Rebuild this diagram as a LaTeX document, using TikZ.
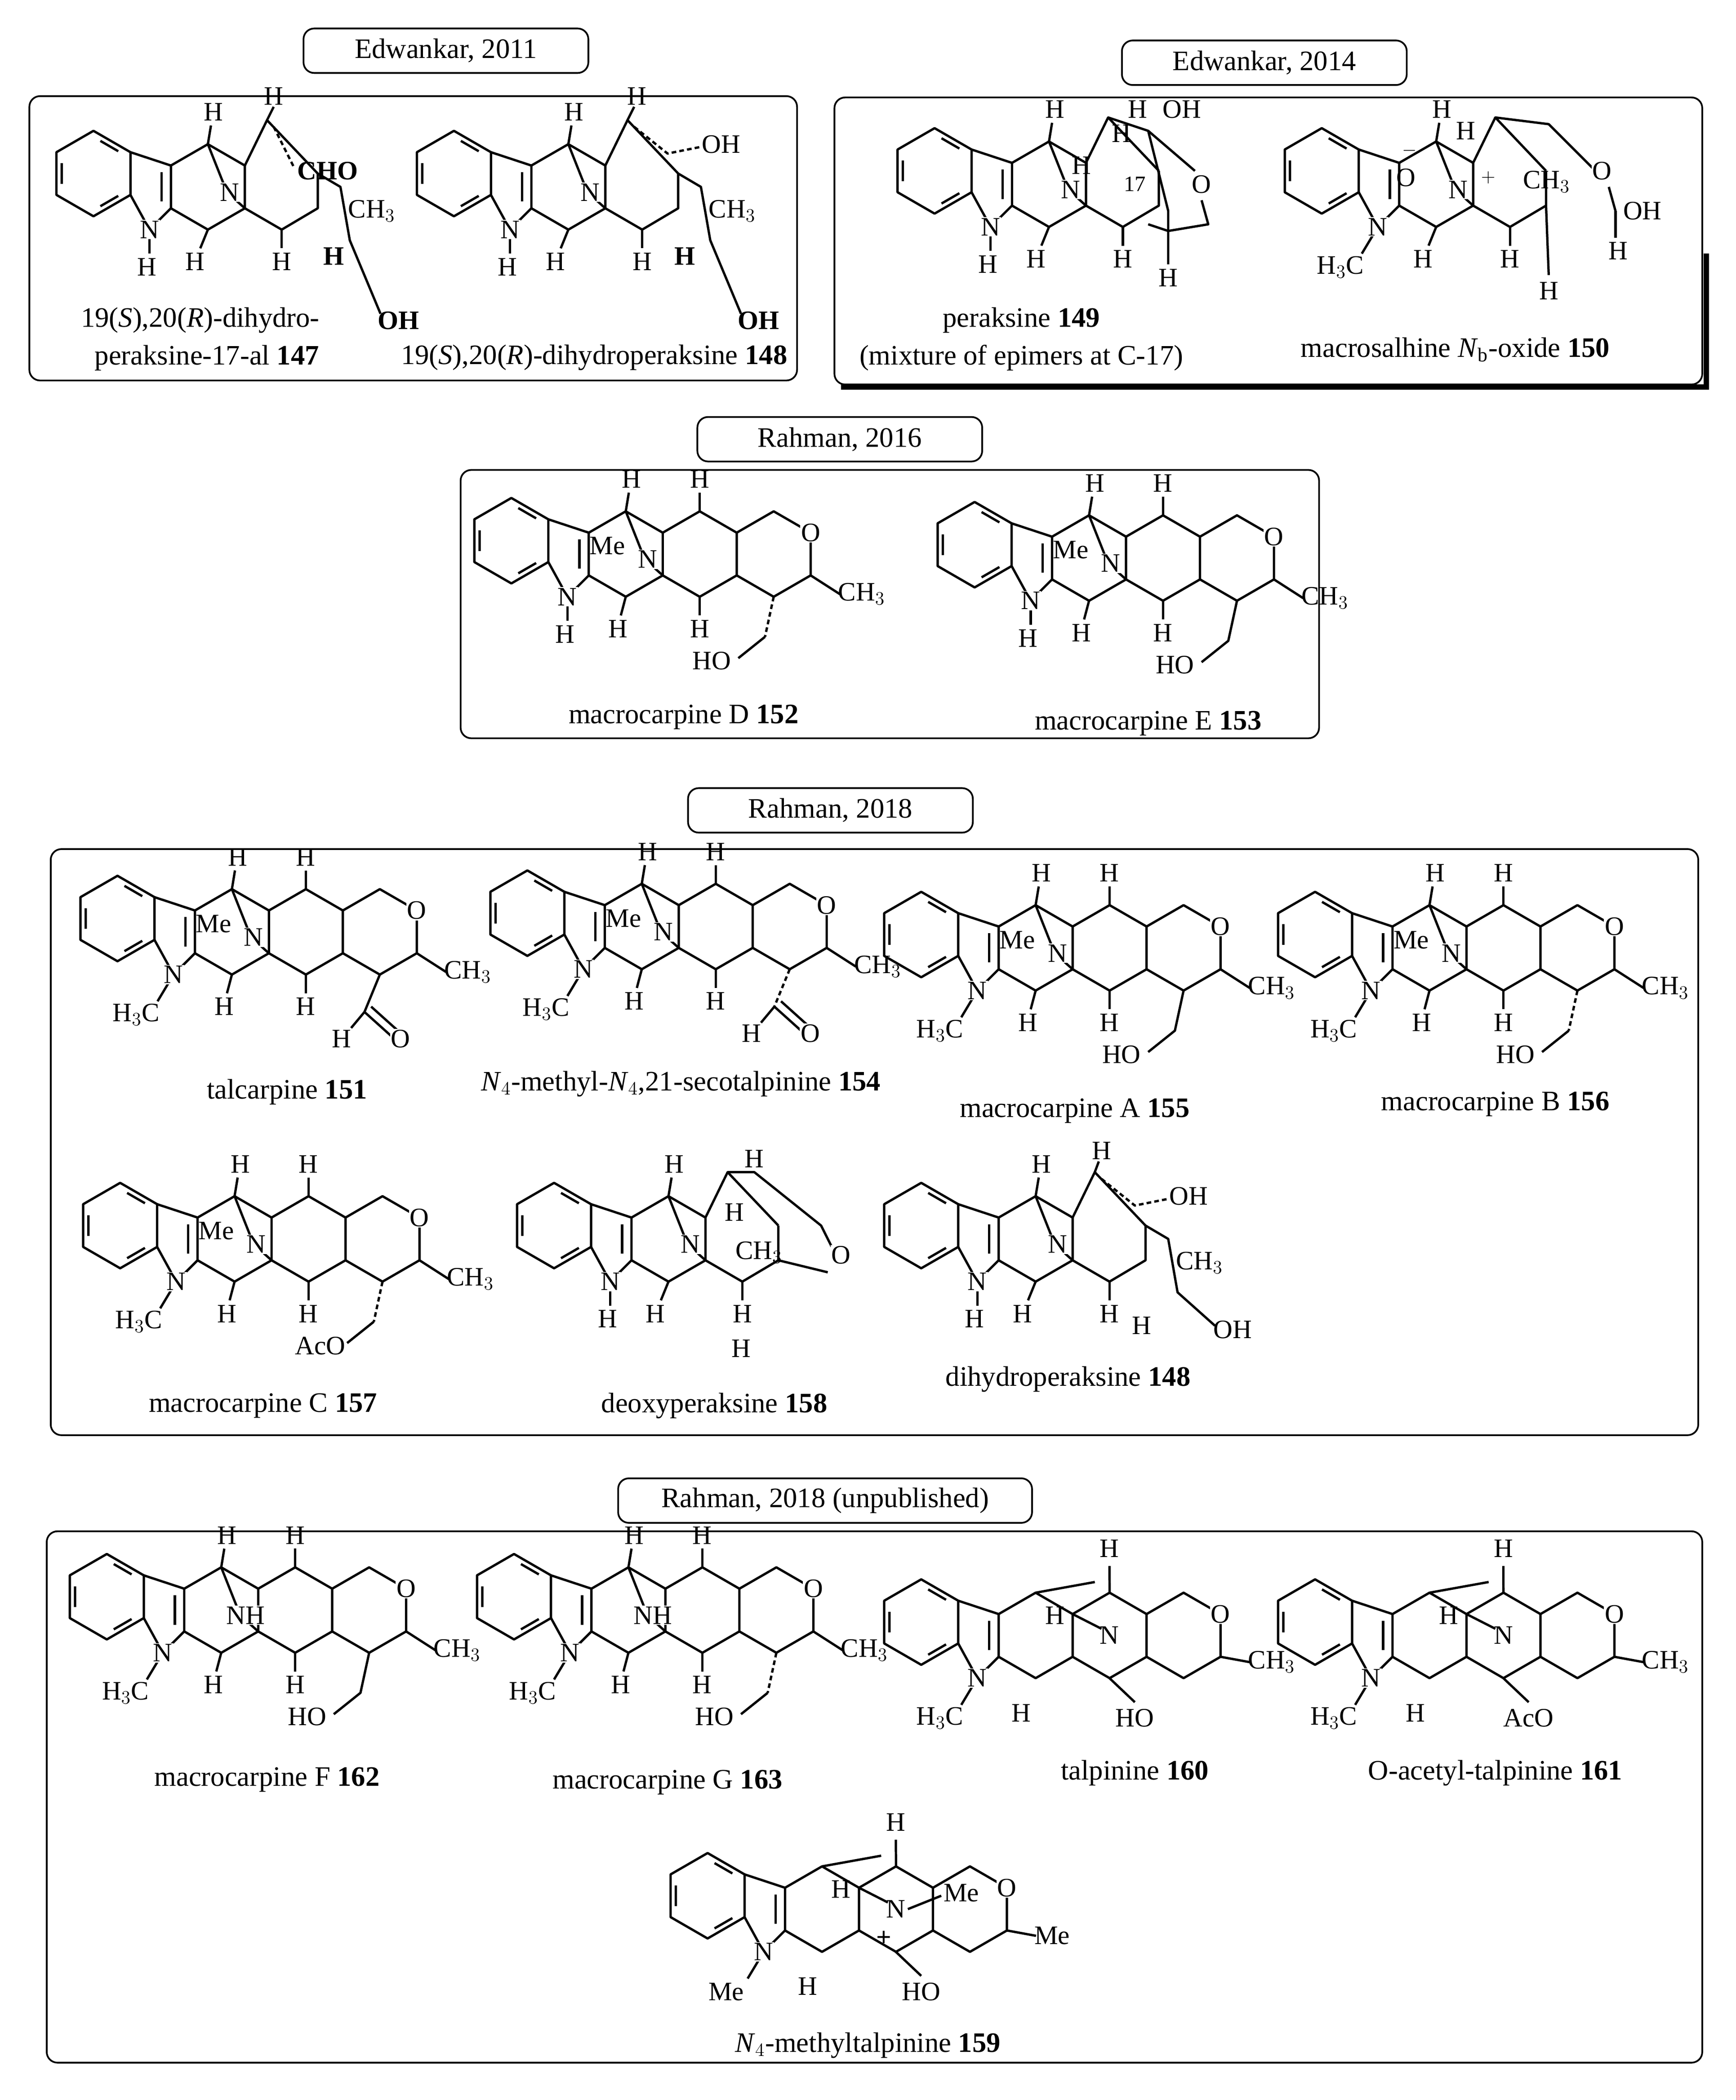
\documentclass[tikz,border=0pt]{standalone}
\usepackage{fontspec}
\setmainfont{Liberation Serif}
\tikzset{
 bond/.style={line width=1.5pt,line join=round},
 atom/.style={fill=white,inner sep=0.6pt,font=\fontsize{17}{19}\selectfont},
 lab/.style={inner sep=0.5pt,font=\fontsize{17}{19}\selectfont},
 nm/.style={inner sep=1pt,font=\fontsize{18}{21}\selectfont},
 frame/.style={draw,line width=1.1pt,rounded corners=2.4mm},
 ttl/.style={draw,line width=1.1pt,rounded corners=2.4mm,minimum width=64mm,minimum height=10mm,font=\fontsize{18}{21}\selectfont}
}
\newcommand\indolecore[1]{%
 \draw[bond] (30:32)--(90:32)--(150:32)--(210:32)--(270:32)--(330:32)--cycle;
 \draw[bond] (42:25)--(78:25) (162:25)--(198:25) (282:25)--(318:25);
 \draw[bond] (30:32)--(58,6)--(58,-26)--(42,-42)--(330:32);
 \draw[bond] (51,1)--(51,-21);
 \draw[bond] (58,6)--(85.7,22)--(113.4,6)--(113.4,-26)--(85.7,-42)--(58,-26);
 \ifx#1H
  \draw[bond] (42,-42)--(42,-60); \node[lab] at (40,-70){H};
 \else
  \draw[bond] (42,-42)--(30,-62); \node[lab] at (14,-72){#1};
 \fi
 \node[atom] at (42,-42){N};}
\newcommand\ringfour{\draw[bond] (113.4,6)--(141.1,22)--(168.8,6)--(168.8,-26)--(141.1,-42)--(113.4,-26);}
\newcommand\ringfive{\draw[bond] (168.8,6)--(196.5,22)--(224.2,6)--(224.2,-26)--(196.5,-42)--(168.8,-26);
 \node[atom] at (224.2,6){O};}
\newcommand\talskel[2]{%
 \indolecore{#1}\ringfour\ringfive
 \draw[bond] (85.7,22)--(100,-14) (100,-14)--(113.4,-26);
 \ifnum#2=1
  \node[atom] at (102,-14){N}; \node[lab] at (72,-4){Me};
 \else
  \node[atom] at (104,-14){NH};
 \fi
 \draw[bond] (85.7,22)--(88,36); \node[lab] at (90,46){H};
 \draw[bond] (141.1,22)--(141.1,36); \node[lab] at (141,46){H};
 \draw[bond] (85.7,-42)--(82,-56); \node[lab] at (80,-66){H};
 \draw[bond] (141.1,-42)--(141.1,-56); \node[lab] at (141,-66){H};
 \draw[bond] (224.2,-26)--(246,-40); \node[lab,anchor=west] at (244,-40){CH$_3$};}
\newcommand\perskel[1]{%
 \indolecore{#1}
 \draw[bond] (113.4,-26)--(141,-42)--(168,-26)--(168,0);
 \draw[bond] (85.7,22)--(100,-14)--(113.4,-26);
 \draw[bond] (113.4,6)--(130,40)--(168,0);
 \node[atom] at (102,-14){N};
 \draw[bond] (85.7,22)--(88,36); \node[lab] at (90,46){H};
 \draw[bond] (85.7,-42)--(80,-56); \node[lab] at (76,-66){H};
 \draw[bond] (141,-42)--(141,-56); \node[lab] at (141,-66){H};}
\begin{document}
\begin{tikzpicture}[x=0.3mm,y=-0.3mm]
\useasboundingbox (0,0) rectangle (1300,1573);
\node[ttl] (t1) at (334,38){Edwankar, 2011};
\draw[frame] (22,72) rectangle (597,285);
\node[ttl] (t2) at (947,47){Edwankar, 2014};
\draw[frame] (625,73) rectangle (1275,288);
\draw[line width=3.5pt] (630,290)--(1278,290)--(1278,190);
\node[ttl] (t3) at (629,329){Rahman, 2016};
\draw[frame] (345,352) rectangle (988,553);
\node[ttl] (t4) at (622,607){Rahman, 2018};
\draw[frame] (38,636) rectangle (1272,1075);
\node[ttl,minimum width=93mm] (t5) at (618,1124){Rahman, 2018 (unpublished)};
\draw[frame] (35,1147) rectangle (1275,1545);

% 147
\begin{scope}[shift={(70,130)},yscale=-1]
 \perskel{H}
 \draw[bond] (130,40)--(135,50); \node[lab] at (135,58){H};
 \draw[bond,densely dashed] (135,35)--(150,5); \node[lab,anchor=west] at (152,2){\textbf{CHO}};
 \draw[bond] (168,0)--(185,-10)--(192,-50)--(215,-105); \node[lab,anchor=west] at (190,-28){CH$_3$};
 \node[lab] at (180,-62){\textbf{H}}; \node[lab,anchor=west] at (212,-110){\textbf{OH}};
\end{scope}
\node[nm] at (150,240){19(\textit{S}),20(\textit{R})-dihydro-};
\node[nm] at (155,268){peraksine-17-al \textbf{147}};
% 148
\begin{scope}[shift={(340,130)},yscale=-1]
 \perskel{H}
 \draw[bond] (130,40)--(135,50); \node[lab] at (137,58){H};
 \draw[bond,densely dashed] (135,35)--(160,15)--(185,20); \node[lab,anchor=west] at (185,22){OH};
 \draw[bond] (168,0)--(185,-10)--(192,-50)--(215,-105); \node[lab,anchor=west] at (190,-28){CH$_3$};
 \node[lab] at (173,-62){\textbf{H}}; \node[lab,anchor=west] at (212,-110){\textbf{OH}};
\end{scope}
\node[nm] at (445,268){19(\textit{S}),20(\textit{R})-dihydroperaksine \textbf{148}};
% 149
\begin{scope}[shift={(700,128)},yscale=-1]
 \perskel{H}
 \draw[bond] (130,40)--(160,30)--(175,-30)--(175,-70);
 \node[lab] at (110,4){H}; \node[lab] at (140,28){H};
 \node[lab] at (152,46){H}; \node[lab,anchor=west] at (170,46){OH};
 \node[lab,font=\fontsize{14}{16}\selectfont] at (150,-10){17};
 \node[atom] at (200,-10){O}; \draw[bond] (160,30)--(195,0) (200,-22)--(205,-40)--(175,-45);
 \draw[bond] (160,-40)--(175,-45); \node[lab] at (175,-80){H};
\end{scope}
\node[nm] at (765,240){peraksine \textbf{149}};
\node[nm] at (765,268){(mixture of epimers at C-17)};
% 150
\begin{scope}[shift={(990,128)},yscale=-1]
 \perskel{H$_3$C}
 \node[lab] at (63,-5){O}; \node[lab] at (66,12){$^{-}$};
 \node[lab] at (125,-8){$^{+}$};
 \node[lab] at (108,30){H};
 \draw[bond] (130,40)--(170,35)--(205,0); \node[atom] at (210,0){O};
 \node[lab,anchor=west] at (150,-8){CH$_3$};
 \draw[bond] (215,-12)--(220,-30); \node[lab,anchor=west] at (225,-30){OH};
 \draw[bond] (220,-30)--(220,-50); \node[lab] at (222,-60){H};
 \draw[bond] (168,-26)--(170,-78); \node[lab] at (170,-90){H};
\end{scope}
\node[nm] at (1090,262){macrosalhine \textit{N}$_\mathrm{b}$-oxide \textbf{150}};

% 152
\begin{scope}[shift={(383,405)},yscale=-1]
 \talskel{H}{1}
 \draw[bond,densely dashed] (196.5,-42)--(190,-72); \draw[bond] (190,-72)--(170,-88); \node[lab] at (150,-90){HO};
\end{scope}
\node[nm] at (512,537){macrocarpine D \textbf{152}};
% 153
\begin{scope}[shift={(730,408)},yscale=-1]
 \talskel{H}{1}
 \draw[bond] (196.5,-42)--(190,-72)--(170,-88); \node[lab] at (150,-90){HO};
\end{scope}
\node[nm] at (860,542){macrocarpine E \textbf{153}};

% 151
\begin{scope}[shift={(88,688)},yscale=-1]
 \talskel{H$_3$C}{1}
 \draw[bond] (196.5,-42)--(185,-70); \draw[bond] (185,-70)--(205,-88) (190,-66)--(210,-84);
 \node[atom] at (212,-90){O}; \draw[bond] (185,-70)--(175,-82); \node[lab] at (168,-90){H};
\end{scope}
\node[nm] at (215,818){talcarpine \textbf{151}};
% 154
\begin{scope}[shift={(395,684)},yscale=-1]
 \talskel{H$_3$C}{1}
 \draw[bond,densely dashed] (196.5,-42)--(185,-70); \draw[bond] (185,-70)--(205,-88) (190,-66)--(210,-84);
 \node[atom] at (212,-90){O}; \draw[bond] (185,-70)--(175,-82); \node[lab] at (168,-90){H};
\end{scope}
\node[nm] at (510,812){\textit{N}$_4$-methyl-\textit{N}$_4$,21-secotalpinine \textbf{154}};
% 155
\begin{scope}[shift={(690,700)},yscale=-1]
 \talskel{H$_3$C}{1}
 \draw[bond] (196.5,-42)--(190,-72)--(170,-88); \node[lab] at (150,-90){HO};
\end{scope}
\node[nm] at (805,832){macrocarpine A \textbf{155}};
% 156
\begin{scope}[shift={(985,700)},yscale=-1]
 \talskel{H$_3$C}{1}
 \draw[bond,densely dashed] (196.5,-42)--(190,-72); \draw[bond] (190,-72)--(170,-88); \node[lab] at (150,-90){HO};
\end{scope}
\node[nm] at (1120,827){macrocarpine B \textbf{156}};
% 157
\begin{scope}[shift={(90,918)},yscale=-1]
 \talskel{H$_3$C}{1}
 \draw[bond,densely dashed] (196.5,-42)--(190,-72); \draw[bond] (190,-72)--(170,-88); \node[lab] at (150,-90){AcO};
\end{scope}
\node[nm] at (197,1053){macrocarpine C \textbf{157}};
% 158
\begin{scope}[shift={(415,918)},yscale=-1]
 \perskel{H}
 \draw[bond] (130,40)--(150,40)--(200,0)--(210,-20); \node[atom] at (215,-22){O};
 \node[lab] at (150,50){H}; \node[lab] at (135,10){H};
 \node[lab,anchor=west] at (135,-20){CH$_3$};
 \draw[bond] (168,-26)--(205,-35); \node[lab] at (140,-92){H};
\end{scope}
\node[nm] at (535,1053){deoxyperaksine \textbf{158}};
% 148b
\begin{scope}[shift={(690,918)},yscale=-1]
 \perskel{H}
 \draw[bond] (130,40)--(133,48); \node[lab] at (135,56){H};
 \draw[bond,densely dashed] (135,35)--(160,15)--(185,20); \node[lab,anchor=west] at (185,22){OH};
 \draw[bond] (168,0)--(185,-10)--(192,-50)--(220,-75); \node[lab,anchor=west] at (190,-28){CH$_3$};
 \node[lab] at (165,-75){H}; \node[lab,anchor=west] at (218,-78){OH};
\end{scope}
\node[nm] at (800,1033){dihydroperaksine \textbf{148}};

% 162
\begin{scope}[shift={(80,1196)},yscale=-1]
 \talskel{H$_3$C}{0}
 \draw[bond] (196.5,-42)--(190,-72)--(170,-88); \node[lab] at (150,-90){HO};
\end{scope}
\node[nm] at (200,1333){macrocarpine F \textbf{162}};
% 163
\begin{scope}[shift={(385,1196)},yscale=-1]
 \talskel{H$_3$C}{0}
 \draw[bond,densely dashed] (196.5,-42)--(190,-72); \draw[bond] (190,-72)--(170,-88); \node[lab] at (150,-90){HO};
\end{scope}
\node[nm] at (500,1335){macrocarpine G \textbf{163}};
% 160
\begin{scope}[shift={(690,1215)},yscale=-1]
 \indolecore{H$_3$C}\ringfour\ringfive
 \draw[bond] (85.7,22)--(130,30) (141,-42)--(160,-60);
 \node[atom] at (141,-10){N}; \draw[bond] (113.4,6)--(135,-5);
 \node[lab] at (100,5){H}; \node[lab] at (141,55){H}; \draw[bond](141.1,22)--(141,42);
 \node[lab] at (75,-68){H};
 \draw[bond] (224.2,-26)--(246,-30); \node[lab,anchor=west] at (244,-30){CH$_3$};
 \node[lab] at (160,-72){HO};
\end{scope}
\node[nm] at (850,1328){talpinine \textbf{160}};
% 161
\begin{scope}[shift={(985,1215)},yscale=-1]
 \indolecore{H$_3$C}\ringfour\ringfive
 \draw[bond] (85.7,22)--(130,30) (141,-42)--(160,-60);
 \node[atom] at (141,-10){N}; \draw[bond] (113.4,6)--(135,-5);
 \node[lab] at (100,5){H}; \node[lab] at (141,55){H}; \draw[bond](141.1,22)--(141,42);
 \node[lab] at (75,-68){H};
 \draw[bond] (224.2,-26)--(246,-30); \node[lab,anchor=west] at (244,-30){CH$_3$};
 \node[lab] at (160,-72){AcO};
\end{scope}
\node[nm] at (1120,1328){O-acetyl-talpinine \textbf{161}};
% 159
\begin{scope}[shift={(530,1420)},yscale=-1]
 \indolecore{Me}\ringfour\ringfive
 \draw[bond] (85.7,22)--(130,30) (141,-42)--(160,-60);
 \node[atom] at (141,-10){N}; \draw[bond] (113.4,6)--(135,-5) (150,-10)--(175,0);
 \node[lab] at (190,2){Me}; \node[lab] at (132,-32){\textbf{+}};
 \node[lab] at (100,5){H}; \node[lab] at (141,55){H}; \draw[bond](141.1,22)--(141,42);
 \node[lab] at (75,-68){H};
 \draw[bond] (224.2,-26)--(246,-30); \node[lab,anchor=west] at (244,-30){Me};
 \node[lab] at (160,-72){HO};
\end{scope}
\node[nm] at (650,1532){\textit{N}$_4$-methyltalpinine \textbf{159}};
\end{tikzpicture}
\end{document}
